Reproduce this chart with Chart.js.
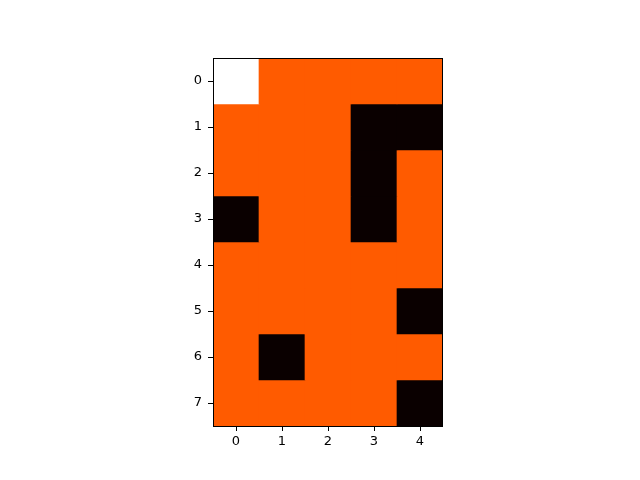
<!DOCTYPE html>
<html><head><meta charset="utf-8">
<script src="https://cdn.jsdelivr.net/npm/chart.js@4"></script>
<style>html,body{margin:0;padding:0;background:#fff}</style>
</head><body>
<canvas id="c" width="640" height="480"></canvas>
<script>
const xLabels = ['0','1','2','3','4'];
const yTicks = [0,1,2,3,4,5,6,7];
// cell values per row (0 = black, 1 = orange, 2 = white)
const cells = [
  [2,1,1,1,1],
  [1,1,1,0,0],
  [1,1,1,0,1],
  [0,1,1,0,1],
  [1,1,1,1,1],
  [1,1,1,1,0],
  [1,0,1,1,1],
  [1,1,1,1,0]
];
const palette = ['#0a0000','#ff5b00','#ffffff'];

const datasets = cells.map((row, r) => ({
  label: 'row ' + r,
  data: row.map(() => [yTicks[r] - 0.5, yTicks[r] + 0.5]),
  backgroundColor: row.map(v => palette[v]),
  borderWidth: 0,
  barPercentage: 1,
  categoryPercentage: 1,
  grouped: false
}));

const frame = {
  id: 'frame',
  afterDraw(chart) {
    const {ctx, chartArea: a} = chart;
    ctx.save();
    ctx.strokeStyle = '#000';
    ctx.lineWidth = 1;
    ctx.strokeRect(a.left + 0.5, a.top + 0.5, a.right - a.left - 1, a.bottom - a.top);
    ctx.restore();
  }
};

new Chart(document.getElementById('c'), {
  type: 'bar',
  data: { labels: xLabels, datasets },
  options: {
    responsive: false,
    animation: false,
    events: [],
    layout: { padding: { left: 183, right: 197, top: 58, bottom: 24 } },
    plugins: { legend: { display: false }, tooltip: { enabled: false } },
    scales: {
      x: {
        type: 'category',
        offset: true,
        grid: { offset: false, drawOnChartArea: false, drawTicks: true, tickLength: 5, color: '#000' },
        border: { display: false },
        ticks: { color: '#000', font: { family: 'DejaVu Sans', size: 13 }, padding: 3, maxRotation: 0 },
        afterFit(s) { s.height = 30; }
      },
      y: {
        type: 'linear',
        reverse: true,
        min: -0.5,
        max: 7.5,
        grid: { drawOnChartArea: false, drawTicks: true, tickLength: 5, color: '#000' },
        border: { display: false },
        ticks: { color: '#000', font: { family: 'DejaVu Sans', size: 13 }, padding: 6 },
        afterBuildTicks(s) { s.ticks = yTicks.map(v => ({ value: v })); },
        afterFit(s) { s.width = 30; }
      }
    }
  },
  plugins: [frame]
});
</script>
</body></html>
